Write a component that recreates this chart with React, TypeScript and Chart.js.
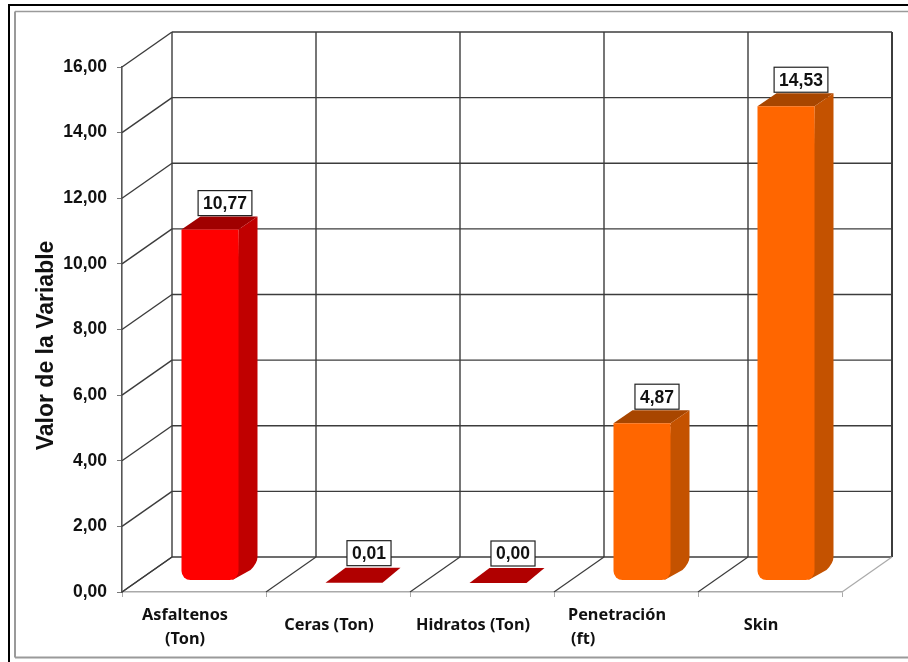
import { useEffect, useRef } from "react";
import { Chart, registerables } from "chart.js";

Chart.register(...registerables);

const categories = [
  ["Asfaltenos", "(Ton)"],
  ["Ceras (Ton)"],
  ["Hidratos (Ton)"],
  ["Penetración", "(ft)\u00a0\u00a0\u00a0\u00a0\u00a0\u00a0\u00a0\u00a0\u00a0\u00a0\u00a0\u00a0\u00a0\u00a0\u00a0\u00a0"],
  ["Skin"],
];
const values = [10.77, 0.01, 0.0, 4.87, 14.53];
const frontColors = ["#FF0000", "#B00000", "#B00000", "#FF6600", "#FF6600"];
const sideColors = ["#C00000", "#B00000", "#B00000", "#C45200", "#C45200"];
const topColors = ["#A00000", "#B00000", "#B00000", "#A84600", "#A84600"];

const AXIS_FONT = "'Liberation Sans', Arial, sans-serif";
const WALL_DX = 50;
const WALL_DY = -35;
const BAR_SHIFT_X = 16;
const BAR_SHIFT_Y = -9;
const BAR_DX = 19;
const BAR_DY = -13;
const GRID = "#3c3c3c";

const fmt = (v: number) => v.toFixed(2).replace(".", ",");
const line = (c: CanvasRenderingContext2D, x1: number, y1: number, x2: number, y2: number, color: string, w = 1.4) => {
  c.strokeStyle = color;
  c.lineWidth = w;
  c.beginPath();
  c.moveTo(x1, y1);
  c.lineTo(x2, y2);
  c.stroke();
};
const poly = (c: CanvasRenderingContext2D, pts: number[][], color: string) => {
  c.fillStyle = color;
  c.beginPath();
  pts.forEach((p, i) => (i ? c.lineTo(p[0], p[1]) : c.moveTo(p[0], p[1])));
  c.closePath();
  c.fill();
};

const framePlugin = {
  id: "frame",
  beforeDraw(chart: any) {
    const c = chart.ctx;
    c.save();
    c.fillStyle = "#fff";
    c.fillRect(0, 0, chart.width, chart.height);
    line(c, 8, 5, 908, 5, "#000", 2);
    line(c, 9, 5, 9, 662, "#000", 2);
    line(c, 15, 11.5, 908, 11.5, "#9a9a9a", 1.6);
    line(c, 15, 11.5, 15, 657.5, "#9a9a9a", 2);
    line(c, 15, 657.5, 908, 657.5, "#9a9a9a", 2);
    c.restore();
  },
};

const wallsPlugin = {
  id: "walls",
  beforeDatasetsDraw(chart: any) {
    const c = chart.ctx;
    const xs = chart.scales.x;
    const ys = chart.scales.y;
    const y0 = ys.getPixelForValue(0);
    c.save();
    // horizontal back-wall lines and side-wall diagonals, one per y tick
    ys.ticks.forEach((t: any) => {
      const y = ys.getPixelForValue(t.value);
      line(c, xs.left + WALL_DX, y + WALL_DY, xs.right + WALL_DX, y + WALL_DY, GRID);
      line(c, xs.left, y, xs.left + WALL_DX, y + WALL_DY, GRID);
    });
    // vertical back-wall lines and floor diagonals, one per category edge
    const n = categories.length;
    const step = (xs.right - xs.left) / n;
    for (let i = 0; i <= n; i++) {
      const x = xs.left + step * i;
      line(c, x + WALL_DX, ys.top + WALL_DY, x + WALL_DX, y0 + WALL_DY, GRID, i === n ? 2 : 1.4);
      line(c, x, y0, x + WALL_DX, y0 + WALL_DY, i === n ? "#aaaaaa" : GRID, 1.2);
    }
    c.restore();
  },
  beforeDatasetDraw(chart: any, args: any) {
    const c = chart.ctx;
    const ys = chart.scales.y;
    c.save();
    c.translate(BAR_SHIFT_X, BAR_SHIFT_Y);
    args.meta.data.forEach((el: any, i: number) => {
      const { x, y, width, base } = el.getProps(["x", "y", "width", "base"], true);
      const l = x - width / 2;
      const r = x + width / 2;
      if (values[i] < 0.1) {
        const y0 = ys.getPixelForValue(values[i]);
        poly(c, [[l, y0], [r, y0], [r + 18, y0 - 15], [l + 20, y0 - 15]], frontColors[i]);
        return;
      }
      poly(c, [[l, y], [r, y], [r + BAR_DX, y + BAR_DY], [l + BAR_DX, y + BAR_DY]], topColors[i]);
      c.fillStyle = sideColors[i];
      c.beginPath();
      c.moveTo(r, y);
      c.lineTo(r + BAR_DX, y + BAR_DY);
      c.lineTo(r + BAR_DX, base - 23);
      c.quadraticCurveTo(r + BAR_DX, base - 17, r + 12, base - 10);
      c.lineTo(r - 6, base);
      c.closePath();
      c.fill();
    });
  },
  afterDatasetDraw(chart: any) {
    chart.ctx.restore();
  },
  afterDatasetsDraw(chart: any) {
    const c = chart.ctx;
    const ys = chart.scales.y;
    const meta = chart.getDatasetMeta(0);
    c.save();
    c.font = `bold 17.5px ${AXIS_FONT}`;
    c.textAlign = "center";
    c.textBaseline = "middle";
    meta.data.forEach((el: any, i: number) => {
      const x = el.x + BAR_SHIFT_X + 15;
      const yTop = ys.getPixelForValue(values[i]) + BAR_SHIFT_Y;
      const bottom = yTop + (values[i] < 0.1 ? -17 : BAR_DY - 1);
      const label = fmt(values[i]);
      const w = c.measureText(label).width + 10;
      const h = 25;
      c.fillStyle = "#fff";
      c.fillRect(x - w / 2, bottom - h, w, h);
      c.strokeStyle = "#222";
      c.lineWidth = 1.2;
      c.strokeRect(x - w / 2, bottom - h, w, h);
      c.fillStyle = "#111";
      c.fillText(label, x, bottom - h / 2 + 1);
    });
    c.restore();
  },
};

export default function App() {
  const ref = useRef<HTMLCanvasElement>(null);
  useEffect(() => {
    const chart = new Chart(ref.current!, {
      type: "bar",
      data: {
        labels: categories,
        datasets: [
          {
            data: values,
            base: 0.09,
            backgroundColor: frontColors.map((col, i) => (values[i] < 0.1 ? "rgba(0,0,0,0)" : col)),
            borderRadius: { topLeft: 0, topRight: 0, bottomLeft: 9, bottomRight: 9 },
            borderSkipped: false,
            categoryPercentage: 1,
            barPercentage: 57 / 144,
            clip: false,
          } as any,
        ],
      },
      plugins: [framePlugin, wallsPlugin],
      options: {
        responsive: false,
        animation: false,
        layout: { padding: { top: 67, right: 66, left: 0, bottom: 0 } },
        plugins: { legend: { display: false }, tooltip: { enabled: false }, title: { display: false } },
        scales: {
          x: {
            afterFit: (s: any) => {
              s.height = 70;
            },
            grid: {
              drawOnChartArea: false,
              drawTicks: true,
              tickLength: 5,
              color: "#aaaaaa",
            },
            border: { display: true, color: "#aaaaaa", width: 1.5 },
            ticks: {
              autoSkip: false,
              maxRotation: 0,
              minRotation: 0,
              padding: 6,
              labelOffset: -9,
              color: "#111",
              font: (ctx: any) => ({
                family: "'Noto Sans', sans-serif",
                size: 16.3,
                weight: "bold",
                lineHeight: categories[ctx.index]?.length === 1 ? "44px" : "24px",
              }),
            },
          },
          y: {
            min: 0,
            max: 16,
            afterFit: (s: any) => {
              s.width = 122;
            },
            grid: {
              drawOnChartArea: false,
              drawTicks: true,
              tickLength: 5,
              color: "#777",
            },
            border: { display: true, color: "#555", width: 1.6 },
            ticks: {
              stepSize: 2,
              padding: 10,
              color: "#111",
              font: { family: AXIS_FONT, size: 17.5, weight: "bold" },
              callback: (v: any) => fmt(Number(v)),
            },
            title: {
              display: true,
              text: "Valor de la Variable\u00a0\u00a0\u00a0\u00a0\u00a0",
              color: "#111",
              font: { family: AXIS_FONT, size: 23, weight: "bold", lineHeight: 1.2 },
              padding: { top: 33, bottom: 0 },
            },
          },
        },
      },
    });
    return () => chart.destroy();
  }, []);
  return (
    <div style={{ position: "absolute", left: 0, top: 0, width: 908, height: 662, overflow: "hidden" }}>
      <canvas ref={ref} width={908} height={662} style={{ display: "block", filter: "blur(0.4px)" }} />
    </div>
  );
}
